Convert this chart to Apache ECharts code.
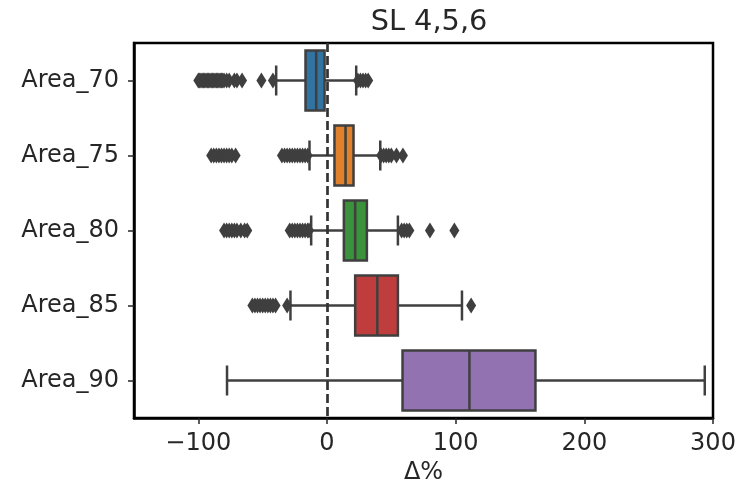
<!DOCTYPE html>
<html>
<head>
<meta charset="utf-8">
<script src="https://cdn.jsdelivr.net/npm/echarts@6/dist/echarts.min.js"></script>
<style>
html,body{margin:0;padding:0;background:#fff}
#main{width:745px;height:485px}
</style>
</head>
<body>
<div id="main"></div>
<script>
// 类别与箱线图数值
var categories = ['Area_70', 'Area_75', 'Area_80', 'Area_85', 'Area_90'];
var whiskerLow = [-39.5, -13.6, -12.3, -28.4, -77.7];
var q1 = [-16.7, 5.8, 13.1, 21.9, 58.7];
var medians = [-8.4, 14.4, 21.9, 39.1, 110.7];
var q3 = [-1.9, 20.6, 31.0, 55.1, 162.0];
var whiskerHigh = [22.7, 41.4, 55.1, 104.9, 293.6];

// 离群点
var outliers70 = [-100, -99, -98, -97, -96, -95, -94, -93, -92, -91, -90, -89, -88, -87, -86, -85, -84, -83, -82, -81, -80, -78, -76, -72, -70, -66, -51, -42, 24, 26, 28, 30, 32];
var outliers75 = [-90, -88, -86, -84, -82, -80, -78, -76, -74, -71, -35, -33, -31, -29, -27, -25, -23, -21, -19, -17, -15, 42, 44, 46, 48, 50, 54, 59];
var outliers80 = [-80, -78, -76, -74, -72, -70, -67, -64, -62, -29, -27, -25, -23, -21, -19, -17, -15, -14, 58, 60, 62, 64, 80, 99];
var outliers85 = [-58, -56, -54, -52, -50, -48, -46, -44, -42, -40, -31, 112];
var outliers90 = [];

var xTicks = [-100, 0, 100, 200, 300];
var boxColors = ['#3274a1', '#e1812c', '#3a923a', '#c03d3e', '#9372b2'];
var edgeColor = '#3f3f3f';

var boxData = [];
for (var i = 0; i < categories.length; i++) {
  boxData.push([i, whiskerLow[i], q1[i], medians[i], q3[i], whiskerHigh[i]]);
}
var allOutliers = [outliers70, outliers75, outliers80, outliers85, outliers90];
var flierData = [];
allOutliers.forEach(function (list, i) {
  list.forEach(function (v) { flierData.push([v, i]); });
});

function renderBox(params, api) {
  var idx = api.value(0);
  var y = api.coord([0, idx])[1];
  var h = api.size([0, 1])[1] * 0.8;
  var xLo = api.coord([api.value(1), idx])[0];
  var xQ1 = api.coord([api.value(2), idx])[0];
  var xMed = api.coord([api.value(3), idx])[0];
  var xQ3 = api.coord([api.value(4), idx])[0];
  var xHi = api.coord([api.value(5), idx])[0];
  var ls = { stroke: edgeColor, lineWidth: 2.5 };
  return {
    type: 'group',
    children: [
      { type: 'line', shape: { x1: xLo, y1: y, x2: xQ1, y2: y }, style: ls },
      { type: 'line', shape: { x1: xQ3, y1: y, x2: xHi, y2: y }, style: ls },
      { type: 'line', shape: { x1: xLo, y1: y - h / 4, x2: xLo, y2: y + h / 4 }, style: ls },
      { type: 'line', shape: { x1: xHi, y1: y - h / 4, x2: xHi, y2: y + h / 4 }, style: ls },
      { type: 'rect', shape: { x: xQ1, y: y - h / 2, width: xQ3 - xQ1, height: h },
        style: { fill: boxColors[idx], stroke: edgeColor, lineWidth: 2.5 } },
      { type: 'line', shape: { x1: xMed, y1: y - h / 2, x2: xMed, y2: y + h / 2 }, style: ls }
    ]
  };
}

var chart = echarts.init(document.getElementById('main'));
var font = 'DejaVu Sans';
var option = {
  animation: false,
  title: {
    text: 'SL 4,5,6',
    left: 424,
    textAlign: 'center',
    top: 3,
    textStyle: { fontFamily: font, fontSize: 28.8, fontWeight: 'normal', color: '#262626' }
  },
  grid: {
    left: 134, right: 32, top: 43, bottom: 67,
    show: true, borderColor: '#000', borderWidth: 2.5,
    outerBoundsMode: 'none'
  },
  xAxis: {
    type: 'value',
    min: -150,
    max: 300,
    name: 'Δ%',
    nameLocation: 'middle',
    nameGap: 37,
    nameTextStyle: { fontFamily: font, fontSize: 24, color: '#262626' },
    axisLine: { show: true, onZero: false, lineStyle: { color: '#000', width: 2.5 } },
    axisTick: { show: true, customValues: xTicks, length: 6, lineStyle: { color: '#262626', width: 1.5 } },
    axisLabel: {
      customValues: xTicks,
      margin: 14,
      fontFamily: font, fontSize: 24, color: '#262626',
      formatter: function (v) { return String(v).replace('-', '\u2212'); }
    },
    splitLine: { show: false }
  },
  yAxis: {
    type: 'category',
    data: categories,
    inverse: true,
    boundaryGap: true,
    axisLine: { show: true, onZero: false, lineStyle: { color: '#000', width: 2.5 } },
    axisTick: { show: true, alignWithLabel: true, length: 6, lineStyle: { color: '#262626', width: 1.5 } },
    axisLabel: { margin: 15, fontFamily: font, fontSize: 24, color: '#262626' },
    splitLine: { show: false }
  },
  series: [
    {
      type: 'custom',
      renderItem: renderBox,
      encode: { x: [1, 2, 3, 4, 5], y: 0 },
      data: boxData,
      z: 2
    },
    {
      type: 'scatter',
      symbol: 'diamond',
      symbolSize: [10, 16],
      itemStyle: { color: edgeColor, opacity: 1 },
      data: flierData,
      z: 3,
      markLine: {
        silent: true,
        symbol: 'none',
        label: { show: false },
        lineStyle: { type: [9, 4], color: '#333', width: 2.7 },
        data: [{ xAxis: 0 }]
      }
    }
  ]
};
chart.setOption(option);
</script>
</body>
</html>
